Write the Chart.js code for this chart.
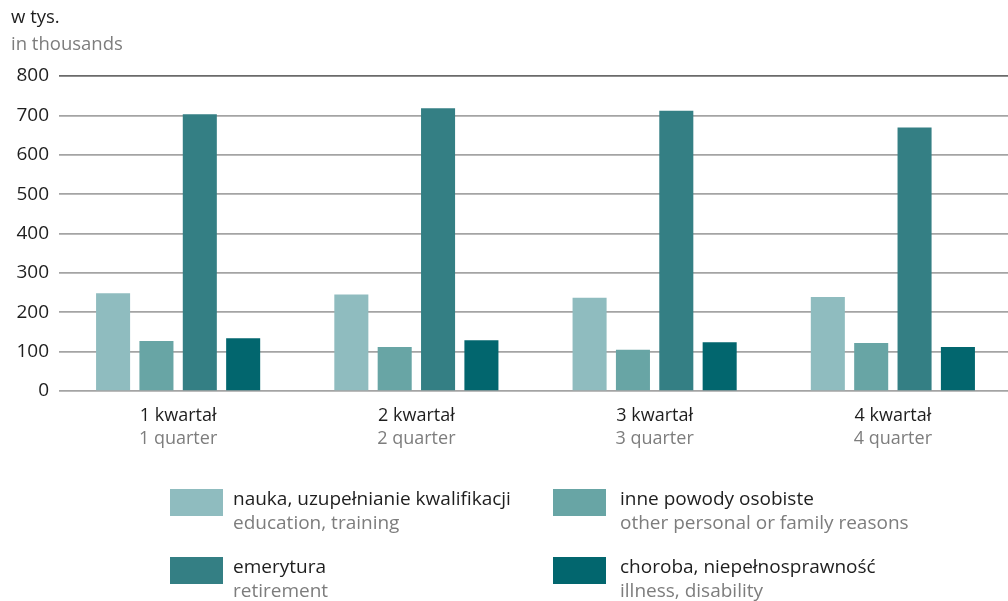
<!DOCTYPE html>
<html>
<head>
<meta charset="utf-8">
<script src="https://cdn.jsdelivr.net/npm/chart.js@4.4.1/dist/chart.umd.min.js"></script>
<style>
  html, body { margin: 0; padding: 0; background: #fff; overflow: hidden; }
  body { width: 1008px; height: 601px; position: relative; font-family: "Open Sans", sans-serif; }
  #chart { position: absolute; left: 0; top: 0; }
  .ttl { position: absolute; left: 11px; font-size: 18.5px; line-height: 22px; }
  .pl { color: #1e1e1e; }
  .en { color: #7d7d7d; }
  .leg { position: absolute; font-size: 19px; line-height: 24px; }
  .leg .sw { position: absolute; left: 0; top: 0; width: 53px; height: 27px; }
  .leg .tx { position: absolute; top: -3px; white-space: nowrap; }
</style>
</head>
<body>
<canvas id="chart" width="1015" height="601"></canvas>
<div class="ttl pl" style="top:5px">w tys.</div>
<div class="ttl en" style="top:32px">in thousands</div>
<div id="legend"></div>
<script>
  // categories
  const quartersPl = ['1 kwartał', '2 kwartał', '3 kwartał', '4 kwartał'];
  const quartersEn = ['1 quarter', '2 quarter', '3 quarter', '4 quarter'];

  // series (thousands)
  const education = [248, 245, 237, 239];
  const personal  = [127, 112, 105, 122];
  const retirement = [703, 718, 712, 669];
  const illness   = [134, 129, 124, 112];

  const seriesPl = ['nauka, uzupełnianie kwalifikacji', 'inne powody osobiste', 'emerytura', 'choroba, niepełnosprawność'];
  const seriesEn = ['education, training', 'other personal or family reasons', 'retirement', 'illness, disability'];
  const colors = ['#8fbcbf', '#68a5a5', '#347f84', '#02666e'];

  const yTicks = [0, 100, 200, 300, 400, 500, 600, 700, 800];

  const axisFont = { family: '"Open Sans", sans-serif', size: 18 };
  const yFont = { family: '"Open Sans", sans-serif', size: 19 };

  const values = [education, personal, retirement, illness];
  const datasets = values.map((data, i) => ({
    label: seriesPl[i],
    data: data,
    backgroundColor: colors[i],
    categoryPercentage: 0.728,
    barPercentage: 0.785,
    xAxisID: 'x'
  }));

  new Chart(document.getElementById('chart'), {
    type: 'bar',
    data: { labels: quartersPl, datasets: datasets },
    options: {
      responsive: false,
      animation: false,
      layout: { padding: { top: 76, right: 3, left: 0, bottom: 0 } },
      plugins: { legend: { display: false }, tooltip: { enabled: false } },
      scales: {
        y: {
          min: 0, max: 800,
          afterBuildTicks: (s) => { s.ticks = yTicks.map(v => ({ value: v })); },
          afterFit: (s) => { s.width = 59; },
          grid: {
            drawTicks: false,
            color: (c) => c.tick && c.tick.value === 800 ? '#6a6a6a' : '#a4a4a4',
            lineWidth: 1.7
          },
          border: { display: false },
          ticks: { color: '#1e1e1e', font: yFont, padding: 10 }
        },
        x: {
          weight: 0,
          grid: { display: false, drawTicks: false },
          border: { display: false },
          ticks: { color: '#1e1e1e', font: axisFont, padding: 14, maxRotation: 0 },
          afterFit: (s) => { s.height = 36; }
        },
        x2: {
          type: 'category',
          labels: quartersEn,
          position: 'bottom',
          offset: true,
          weight: 1,
          grid: { display: false, drawTicks: false },
          border: { display: false },
          ticks: { color: '#7d7d7d', font: axisFont, padding: 1, maxRotation: 0 },
          afterFit: (s) => { s.height = 174; }
        }
      }
    }
  });

  // legend: two columns, two rows (x, y, text offset)
  const legendPos = [[170, 489, 63], [553, 489, 67], [170, 557, 63], [553, 557, 67]];
  const legend = document.getElementById('legend');
  seriesPl.forEach((name, i) => {
    const item = document.createElement('div');
    item.className = 'leg';
    item.style.left = legendPos[i][0] + 'px';
    item.style.top = legendPos[i][1] + 'px';
    item.innerHTML = '<div class="sw" style="background:' + colors[i] + '"></div>' +
      '<div class="tx" style="left:' + legendPos[i][2] + 'px"><div class="pl">' + name + '</div><div class="en">' + seriesEn[i] + '</div></div>';
    legend.appendChild(item);
  });
</script>
</body>
</html>
